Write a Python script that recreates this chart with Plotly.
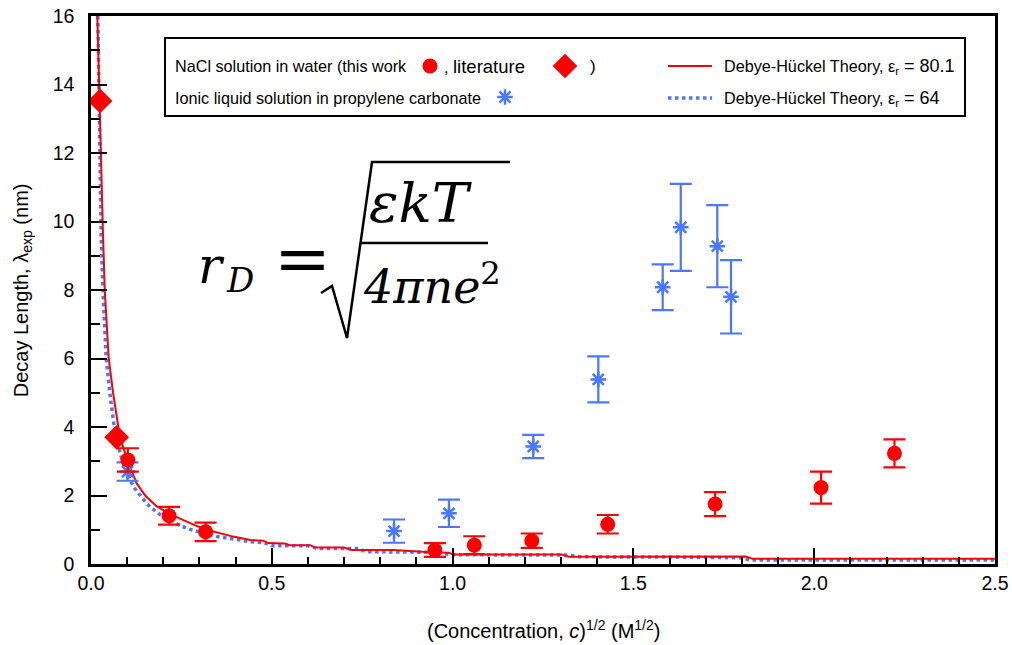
import plotly.graph_objects as go

# --- measured decay lengths -------------------------------------------------
# NaCl solution in water (this work)
nacl_x = [0.102, 0.216, 0.317, 0.951, 1.060, 1.219, 1.429, 1.726, 2.019, 2.222]
nacl_y = [3.04, 1.41, 0.94, 0.41, 0.55, 0.68, 1.16, 1.75, 2.23, 3.23]
nacl_err = [0.34, 0.26, 0.27, 0.20, 0.26, 0.21, 0.27, 0.35, 0.47, 0.41]

# NaCl solution in water (literature)
lit_x = [0.025, 0.071]
lit_y = [13.52, 3.70]

# Ionic liquid solution in propylene carbonate
il_x = [0.101, 0.838, 0.990, 1.223, 1.403, 1.581, 1.631, 1.732, 1.770]
il_y = [2.70, 0.96, 1.48, 3.43, 5.39, 8.08, 9.83, 9.28, 7.80]
il_err = [0.27, 0.34, 0.40, 0.34, 0.67, 0.67, 1.27, 1.20, 1.07]

# --- Debye-Hückel curves ----------------------------------------------------
dh80_x = [0.0175, 0.023, 0.033, 0.038, 0.049, 0.061, 0.073, 0.080, 0.100, 0.126,
          0.150, 0.181, 0.220, 0.255, 0.290, 0.320, 0.360, 0.393, 0.440, 0.476,
          0.490, 0.536, 0.550, 0.606, 0.620, 0.700, 0.720, 0.835, 0.940, 0.990,
          1.000, 1.300, 1.320, 1.810, 1.830, 2.500]
dh80_y = [16.0, 13.5, 9.7, 8.0, 6.0, 5.0, 4.2, 3.7, 3.05, 2.36,
          2.0, 1.69, 1.45, 1.28, 1.12, 1.0, 0.88, 0.80, 0.70, 0.68,
          0.61, 0.60, 0.55, 0.55, 0.48, 0.48, 0.41, 0.41, 0.34, 0.33,
          0.28, 0.28, 0.21, 0.22, 0.15, 0.15]

dh64_x = [0.019, 0.028, 0.033, 0.042, 0.052, 0.061, 0.068, 0.090, 0.117, 0.140,
          0.163, 0.190, 0.218, 0.245, 0.274, 0.310, 0.348, 0.400, 0.440, 0.480,
          0.500, 0.600, 0.630, 0.740, 0.760, 0.950, 1.000, 1.320, 1.350, 1.650,
          1.800, 1.820, 2.500]
dh64_y = [16.0, 9.6, 8.0, 6.0, 5.0, 4.2, 3.7, 2.9, 2.26, 1.95,
          1.67, 1.45, 1.28, 1.13, 1.01, 0.90, 0.80, 0.72, 0.65, 0.62,
          0.53, 0.53, 0.45, 0.45, 0.36, 0.34, 0.27, 0.26, 0.21, 0.20,
          0.18, 0.12, 0.12]

# --- axis ticks ---------------------------------------------------------------
x_ticks = [0.0, 0.5, 1.0, 1.5, 2.0, 2.5]
x_ticklabels = ["0.0", "0.5", "1.0", "1.5", "2.0", "2.5"]
y_ticks = [0, 2, 4, 6, 8, 10, 12, 14, 16]
y_ticklabels = ["0", "2", "4", "6", "8", "10", "12", "14", "16"]

RED = "#ff0000"
BLUE = "#4a78ff"
FONT = "Liberation Sans, Arial, sans-serif"
MATH = "DejaVu Serif, serif"

W, H = 1012, 645
L, R, T, B = 91, 17, 16, 81

fig = go.Figure()

fig.add_trace(go.Scatter(x=dh64_x, y=dh64_y, mode="lines",
                         line=dict(color=BLUE, width=3.5, dash="dot"),
                         showlegend=False))
fig.add_trace(go.Scatter(x=dh80_x, y=dh80_y, mode="lines",
                         line=dict(color=RED, width=2),
                         showlegend=False))
fig.add_trace(go.Scatter(x=il_x, y=il_y, mode="markers",
                         marker=dict(symbol="asterisk-open", size=13, color=BLUE,
                                     line=dict(color=BLUE, width=2.5)),
                         error_y=dict(type="data", array=il_err, color=BLUE,
                                      thickness=2.2, width=11),
                         showlegend=False))
fig.add_trace(go.Scatter(x=nacl_x, y=nacl_y, mode="markers",
                         marker=dict(symbol="circle", size=15, color=RED),
                         error_y=dict(type="data", array=nacl_err, color=RED,
                                      thickness=2.2, width=11),
                         showlegend=False))
fig.add_trace(go.Scatter(x=lit_x, y=lit_y, mode="markers",
                         marker=dict(symbol="diamond", size=19, color=RED),
                         showlegend=False))

# Overlay axes in page pixel units for the key and the formula
legend_sym_x = [430, 565, 505]
legend_sym_y = [66, 66, 97]
fig.add_trace(go.Scatter(x=legend_sym_x[:1], y=legend_sym_y[:1], mode="markers",
                         xaxis="x2", yaxis="y2",
                         marker=dict(symbol="circle", size=15, color=RED),
                         showlegend=False, hoverinfo="skip"))
fig.add_trace(go.Scatter(x=legend_sym_x[1:2], y=legend_sym_y[1:2], mode="markers",
                         xaxis="x2", yaxis="y2",
                         marker=dict(symbol="diamond", size=19, color=RED),
                         showlegend=False, hoverinfo="skip"))
fig.add_trace(go.Scatter(x=legend_sym_x[2:], y=legend_sym_y[2:], mode="markers",
                         xaxis="x2", yaxis="y2",
                         marker=dict(symbol="asterisk-open", size=13, color=BLUE,
                                     line=dict(color=BLUE, width=2.5)),
                         showlegend=False, hoverinfo="skip"))

shapes = [
    # key frame
    dict(type="rect", xref="x2", yref="y2", x0=165, x1=965, y0=38, y1=116,
         line=dict(color="black", width=2), fillcolor="white", layer="below"),
    dict(type="line", xref="x2", yref="y2", x0=668, x1=712, y0=66, y1=66,
         line=dict(color=RED, width=2)),
    dict(type="line", xref="x2", yref="y2", x0=668, x1=712, y0=98, y1=98,
         line=dict(color=BLUE, width=3.5, dash="dot")),
    # radical sign
    dict(type="path", xref="x2", yref="y2",
         path="M 321 293 L 332 286 L 347 338 L 372 162 L 510 162",
         line=dict(color="black", width=2.5)),
    # fraction bar
    dict(type="line", xref="x2", yref="y2", x0=361, x1=488, y0=243, y1=243,
         line=dict(color="black", width=2.5)),
]

def note(x, y, text, size, family=FONT, xanchor="left", yanchor="middle"):
    return dict(x=x, y=y, xref="x2", yref="y2", text=text, showarrow=False,
                xanchor=xanchor, yanchor=yanchor,
                font=dict(family=family, size=size, color="black"))

annotations = [
    note(173, 66, "NaCl solution in water (this work", 16.2),
    note(442, 66, ", <span style='font-size:18.5px'>literature</span>", 16.2),
    note(588, 66, ")", 17),
    note(722, 66, "Debye-Hückel Theory, ε<sub>r</sub>"
         "<span style='font-size:18px'> = 80.1</span>", 16.2),
    note(173, 98, "Ionic liquid solution in propylene carbonate", 16.2),
    note(722, 98, "Debye-Hückel Theory, ε<sub>r</sub>"
         "<span style='font-size:18px'> = 64</span>", 16.2),
    # Debye length formula
    note(196, 266, "<i>r</i>", 50, family=MATH),
    note(224, 280, "<i>D</i>", 34, family=MATH),
    note(302, 258, "=", 68, family=MATH, xanchor="center"),
    note(421, 203, "<i>εkT</i>", 55, family=MATH, xanchor="center"),
    note(432, 284, "<i>4πne</i><sup>2</sup>", 46, family=MATH, xanchor="center"),
    # axis titles
    dict(x=-0.076, y=0.5, xref="paper", yref="paper", textangle=-90,
         text="Decay Length, λ<sub>exp</sub> (nm)", showarrow=False,
         xanchor="center", yanchor="middle",
         font=dict(family=FONT, size=20, color="black")),
    dict(x=0.5, y=-0.12, xref="paper", yref="paper",
         text="(Concentration, <i>c</i>)<sup>1/2</sup> (M<sup>1/2</sup>)",
         showarrow=False, xanchor="center", yanchor="middle",
         font=dict(family=FONT, size=20, color="black")),
]

axis_common = dict(showgrid=False, zeroline=False, showline=True, linecolor="black",
                   linewidth=2.5, mirror=True, ticks="inside", tickcolor="black",
                   tickwidth=2, ticklen=16, automargin=False,
                   tickfont=dict(family=FONT, size=19.5, color="black"))

fig.update_layout(
    width=W, height=H,
    margin=dict(l=L, r=R, t=T, b=B, pad=0, autoexpand=False),
    paper_bgcolor="white", plot_bgcolor="white",
    showlegend=False,
    xaxis=dict(range=[0, 2.5], tickvals=x_ticks, ticktext=x_ticklabels,
               minor=dict(dtick=0.1, ticks="inside", ticklen=7, tickwidth=2,
                          tickcolor="black"),
               ticklabelstandoff=0, **axis_common),
    yaxis=dict(range=[0, 16], tickvals=y_ticks, ticktext=y_ticklabels,
               minor=dict(dtick=1, ticks="inside", ticklen=9, tickwidth=2,
                          tickcolor="black"),
               ticklabelstandoff=10, **axis_common),
    xaxis2=dict(range=[L, W - R], overlaying="x", visible=False, fixedrange=True),
    yaxis2=dict(range=[H - B, T], overlaying="y", visible=False, fixedrange=True),
    shapes=shapes,
    annotations=annotations,
)

fig.write_html("out.html")
